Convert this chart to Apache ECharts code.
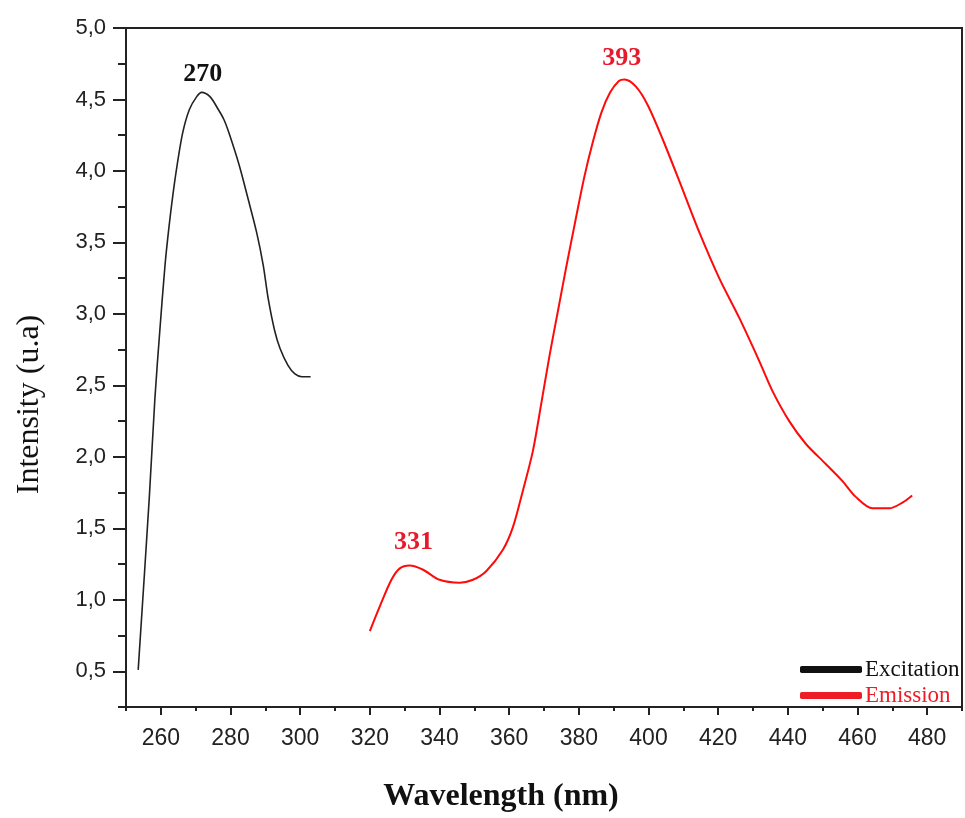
<!DOCTYPE html>
<html>
<head>
<meta charset="utf-8">
<script src="https://cdn.jsdelivr.net/npm/echarts@6/dist/echarts.min.js"></script>
<style>
html, body { margin: 0; padding: 0; background: #fff; }
#chart { width: 965px; height: 818px; }
</style>
</head>
<body>
<div id="chart"></div>
<script>
// excitation spectrum (black)
var excitationX = [253.5, 256.7, 258.3, 259.7, 261.2, 262.3, 263.5, 264.8, 266.3, 268.2, 270.3, 271.7, 274.1, 276.5, 278.1, 279.5, 282.5, 285.1, 287.5, 289.4, 290.8, 292.7, 294.2, 296.5, 298.5, 300.5, 303.0];
var excitationY = [0.51, 1.72, 2.41, 2.88, 3.34, 3.60, 3.84, 4.06, 4.27, 4.43, 4.52, 4.55, 4.52, 4.43, 4.36, 4.27, 4.04, 3.80, 3.57, 3.34, 3.11, 2.88, 2.76, 2.64, 2.58, 2.56, 2.56];

// emission spectrum (red)
var emissionX = [320.0, 322.8, 326.2, 328.6, 331.4, 335.3, 340.0, 345.8, 349.6, 353.4, 358.2, 361.1, 363.9, 366.8, 369.2, 371.6, 374.0, 376.4, 379.0, 381.5, 384.0, 386.5, 389.0, 391.5, 393.1, 396.4, 399.8, 404.1, 409.8, 414.6, 420.3, 426.1, 431.8, 435.6, 440.4, 445.2, 450.9, 455.7, 459.5, 464.3, 469.1, 472.9, 475.7];
var emissionY = [0.78, 0.95, 1.14, 1.22, 1.24, 1.21, 1.14, 1.12, 1.14, 1.20, 1.35, 1.51, 1.76, 2.04, 2.37, 2.71, 3.02, 3.33, 3.65, 3.95, 4.20, 4.41, 4.55, 4.63, 4.64, 4.59, 4.46, 4.22, 3.87, 3.57, 3.25, 2.97, 2.67, 2.46, 2.25, 2.09, 1.95, 1.83, 1.72, 1.64, 1.64, 1.68, 1.73];

// peak annotations
var excitationPeakNames = ['270'];
var excitationPeakX = [272];
var excitationPeakY = [4.55];
var emissionPeakNames = ['331', '393'];
var emissionPeakX = [332.5, 392.3];
var emissionPeakY = [1.24, 4.64];

// ticks
var xMajorTicks = [260, 280, 300, 320, 340, 360, 380, 400, 420, 440, 460, 480];
var yMajorTicks = [0.5, 1.0, 1.5, 2.0, 2.5, 3.0, 3.5, 4.0, 4.5, 5.0];

var seriesNames = ['Excitation', 'Emission'];

function pairs(xs, ys) {
    var out = [];
    for (var i = 0; i < xs.length; i++) out.push([xs[i], ys[i]]);
    return out;
}

function peakPoints(names, xs, ys, dist) {
    var out = [];
    for (var i = 0; i < names.length; i++) {
        out.push({ name: names[i], coord: [xs[i], ys[i]], label: { distance: dist[i] } });
    }
    return out;
}

var chart = echarts.init(document.getElementById('chart'));

var axisColor = '#222';
var peakLabel = {
    show: true,
    position: 'top',
    formatter: '{b}',
    fontFamily: 'Liberation Serif',
    fontWeight: 'bold',
    fontSize: 26
};

var option = {
    backgroundColor: '#fff',
    animation: false,
    grid: {
        left: 126, top: 28, right: 2, bottom: 107,
        show: true,
        borderColor: axisColor,
        borderWidth: 2,
        backgroundColor: 'transparent'
    },
    legend: {
        orient: 'vertical',
        left: 795,
        top: 653,
        itemWidth: 62,
        itemHeight: 7,
        itemGap: 3,
        icon: 'roundRect',
        textStyle: { fontFamily: 'Liberation Serif', fontSize: 23, lineHeight: 23, padding: [0, 0, 0, -2] },
        data: [
            { name: seriesNames[0], textStyle: { color: '#111' } },
            { name: seriesNames[1], textStyle: { color: '#ee1c25' } }
        ]
    },
    xAxis: [
        {
            type: 'value',
            min: 250, max: 490, interval: 10,
            name: 'Wavelength (nm)',
            nameLocation: 'middle',
            nameGap: 74,
            nameTextStyle: {
                fontFamily: 'Liberation Serif', fontWeight: 'bold', fontSize: 32,
                color: '#111', padding: [0, 86, 0, 0]
            },
            axisLine: { lineStyle: { color: axisColor, width: 2 } },
            axisTick: { length: 4, lineStyle: { color: axisColor, width: 2 } },
            axisLabel: {
                margin: 20,
                fontFamily: 'Liberation Sans', fontSize: 23, color: '#222',
                formatter: function (v) { return v % 20 === 0 ? String(v) : ''; }
            },
            splitLine: { show: false }
        },
        {
            type: 'value',
            min: 250, max: 490,
            position: 'bottom',
            axisLine: { show: false },
            axisTick: { show: true, length: 8, customValues: xMajorTicks, lineStyle: { color: axisColor, width: 2 } },
            axisLabel: { show: false },
            splitLine: { show: false }
        }
    ],
    yAxis: [
        {
            type: 'value',
            min: 0.25, max: 5, interval: 0.25,
            name: 'Intensity (u.a)',
            nameLocation: 'middle',
            nameGap: 80,
            nameTextStyle: {
                fontFamily: 'Liberation Serif', fontSize: 32, color: '#111',
                padding: [0, 74, 0, 0]
            },
            axisLine: { show: true, lineStyle: { color: axisColor, width: 2 } },
            axisTick: { length: 8, lineStyle: { color: axisColor, width: 2 } },
            axisLabel: {
                margin: 20,
                fontFamily: 'Liberation Sans', fontSize: 22, color: '#222',
                formatter: function (v) {
                    var d = v * 2;
                    if (Math.abs(d - Math.round(d)) > 1e-6) return '';
                    return v.toFixed(1).replace('.', ',');
                }
            },
            splitLine: { show: false }
        },
        {
            type: 'value',
            min: 0.25, max: 5,
            position: 'left',
            axisLine: { show: false },
            axisTick: { show: true, length: 13, customValues: yMajorTicks, lineStyle: { color: axisColor, width: 2 } },
            axisLabel: { show: false },
            splitLine: { show: false }
        }
    ],
    series: [
        {
            name: seriesNames[0],
            type: 'line',
            data: pairs(excitationX, excitationY),
            showSymbol: false,
            smooth: 0.3,
            color: '#111',
            lineStyle: { color: '#222', width: 1.6 },
            markPoint: {
                symbol: 'circle',
                symbolSize: 0,
                label: Object.assign({ color: '#111' }, peakLabel),
                data: peakPoints(excitationPeakNames, excitationPeakX, excitationPeakY, [5])
            }
        },
        {
            name: seriesNames[1],
            type: 'line',
            data: pairs(emissionX, emissionY),
            showSymbol: false,
            smooth: 0.3,
            color: '#ee1c25',
            lineStyle: { color: '#ff0a0a', width: 2 },
            markPoint: {
                symbol: 'circle',
                symbolSize: 0,
                label: Object.assign({ color: '#e8192c' }, peakLabel),
                data: peakPoints(emissionPeakNames, emissionPeakX, emissionPeakY, [10, 8])
            }
        }
    ]
};

chart.setOption(option);
</script>
</body>
</html>
